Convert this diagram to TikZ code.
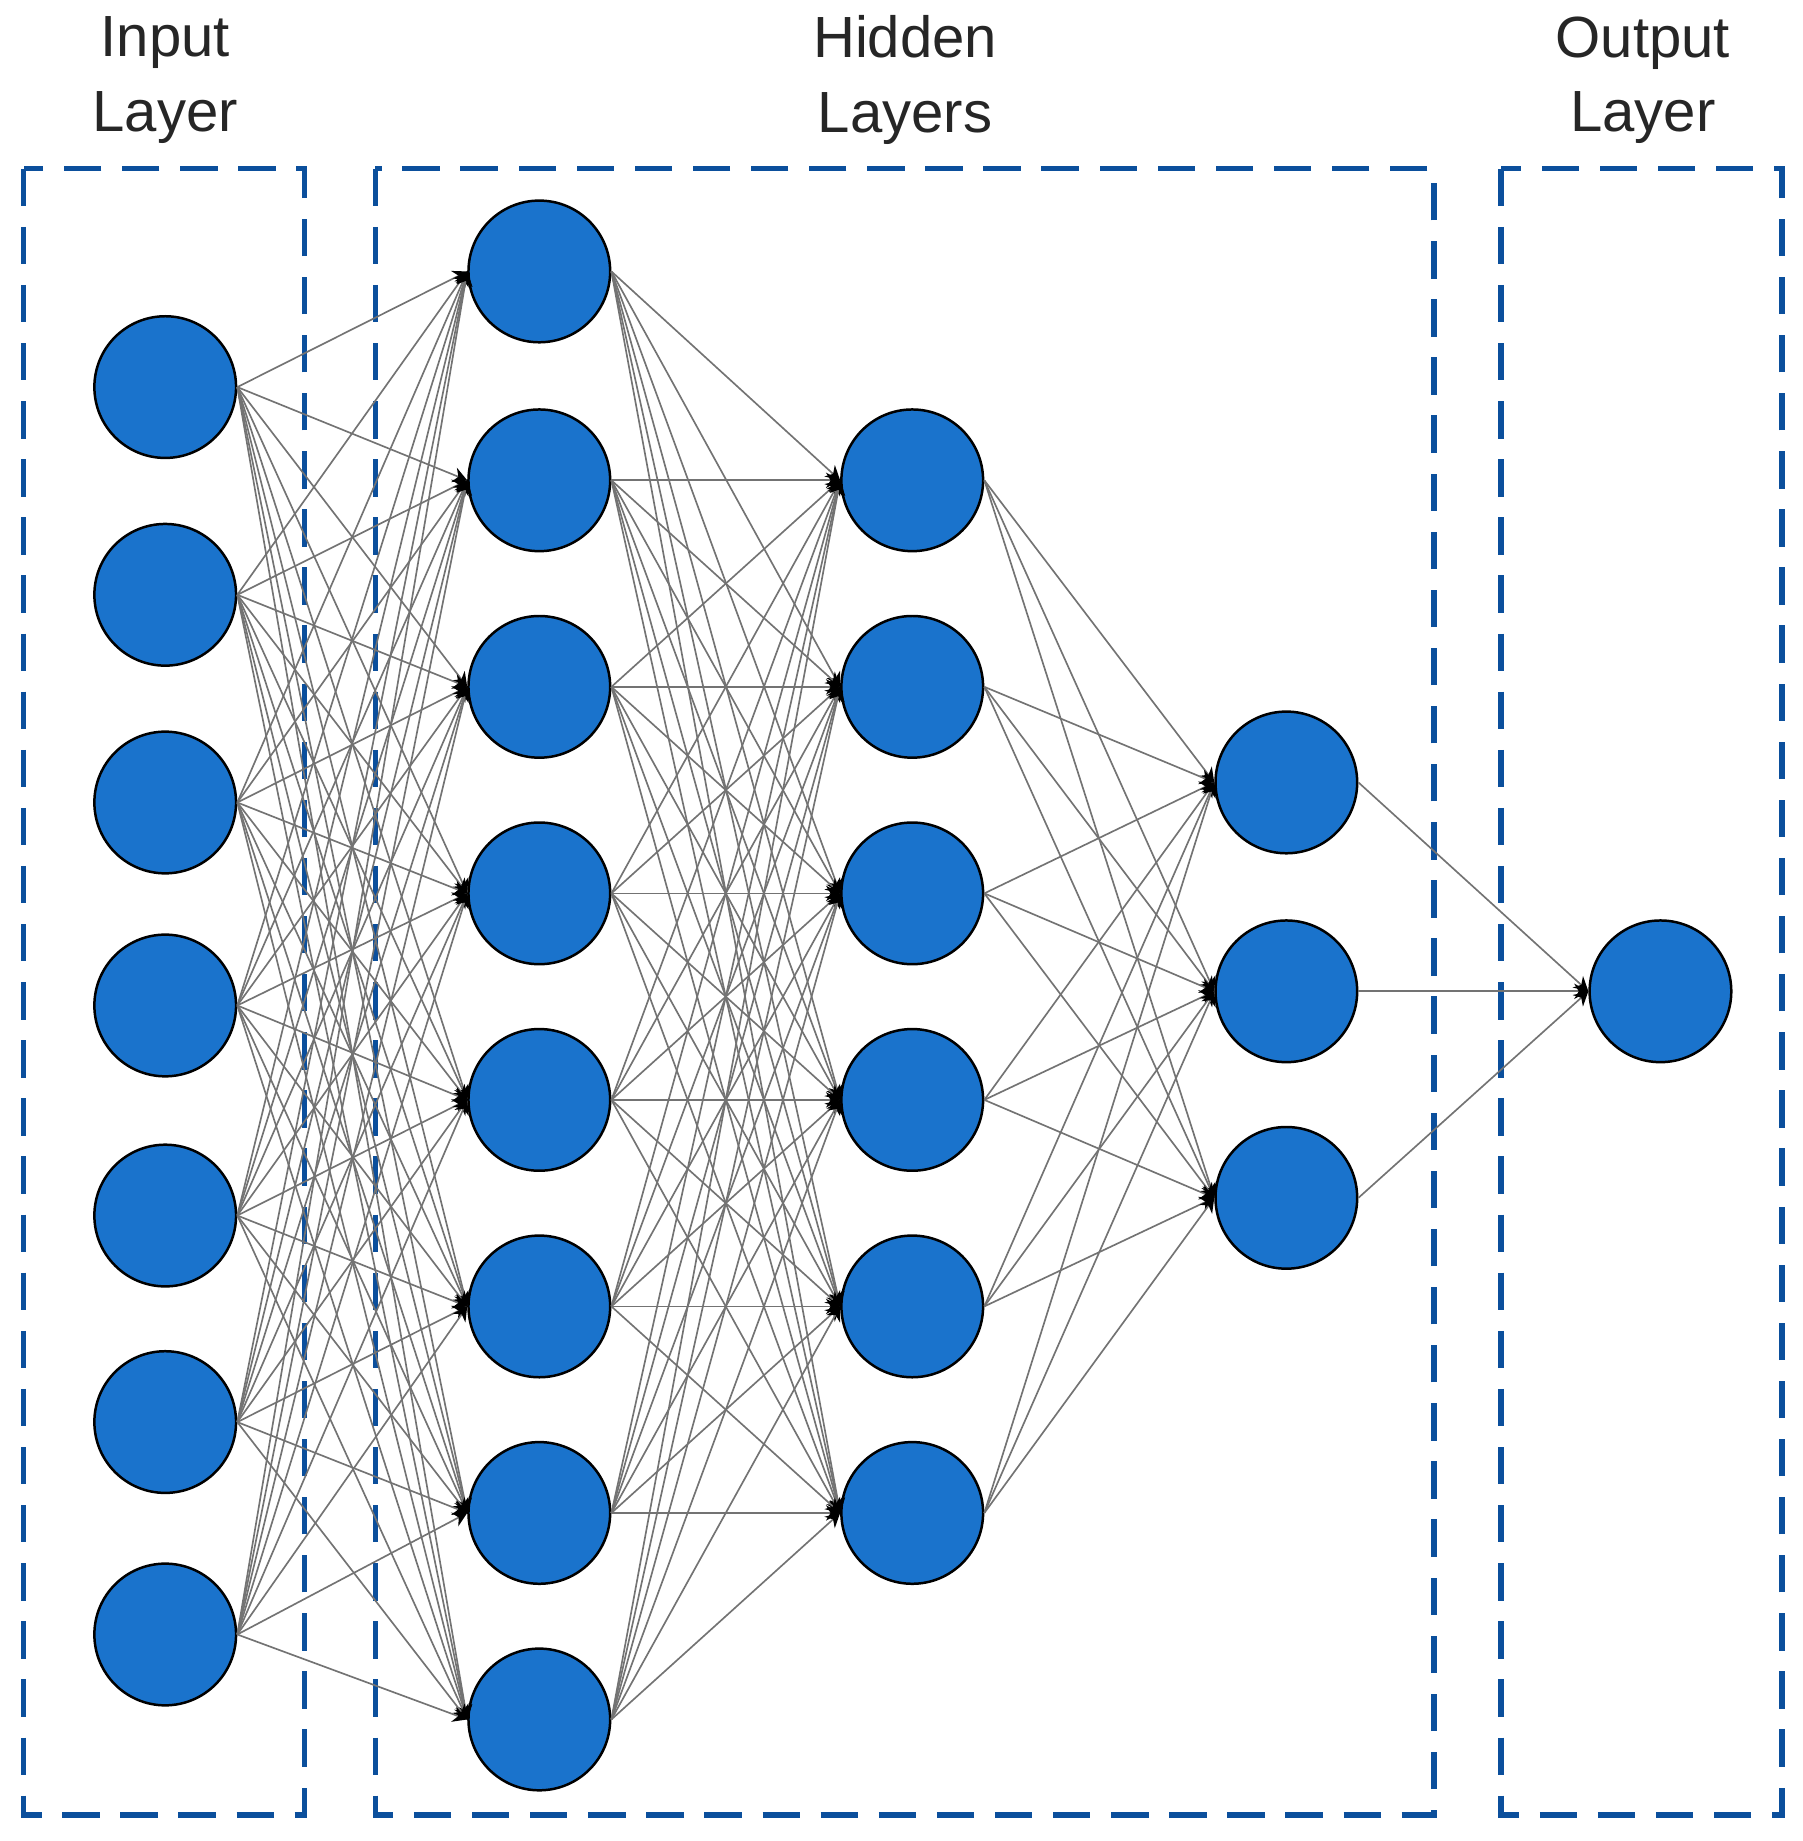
\documentclass[tikz,border=0pt]{standalone}
\usepackage{fontspec}
\setmainfont{Liberation Sans}
\usetikzlibrary{arrows.meta}
\definecolor{nfill}{HTML}{1A73CC}
\definecolor{boxc}{HTML}{0B4F9C}
\begin{document}
\begin{tikzpicture}[x=0.01cm,y=-0.01cm,
  neuron/.style={circle,draw=black,line width=0.6pt,fill=nfill,minimum size=1.2cm,inner sep=0pt},
  conn/.style={draw=black!55,line width=0.4pt,-{Stealth[length=1.2mm,width=1.3mm,black]}},
  lbox/.style={draw=boxc,line width=1.3pt,dash pattern=on 9pt off 5pt},
  lab/.style={font=\fontsize{14}{18}\selectfont,align=center,text=black!85}]
\useasboundingbox (0,0) rectangle (1527,1560);
\draw[lbox] (20,143) rectangle (258,1538);
\draw[lbox] (318,143) rectangle (1215,1538);
\draw[lbox] (1272,143) rectangle (1510,1538);
\node[lab] (lin) at (140,68) {Input\\Layer};
\node[lab] (lhid) at (767,68) {Hidden\\Layers};
\node[lab] (lout) at (1392,68) {Output\\Layer};
\foreach \y [count=\i] in {328,504,680,852,1030,1205,1385} \node[neuron] (a\i) at (140,\y) {};
\foreach \y [count=\i] in {230,407,582,757,932,1107,1282,1457} \node[neuron] (b\i) at (457,\y) {};
\foreach \y [count=\i] in {407,582,757,932,1107,1282} \node[neuron] (c\i) at (773,\y) {};
\foreach \y [count=\i] in {663,840,1015} \node[neuron] (d\i) at (1090,\y) {};
\node[neuron] (o1) at (1407,840) {};
\foreach \i in {1,...,7} \foreach \j in {1,...,8} \draw[conn] (a\i.east) -- (b\j.west);
\foreach \i in {1,...,8} \foreach \j in {1,...,6} \draw[conn] (b\i.east) -- (c\j.west);
\foreach \i in {1,...,6} \foreach \j in {1,...,3} \draw[conn] (c\i.east) -- (d\j.west);
\foreach \i in {1,...,3} \draw[conn] (d\i.east) -- (o1.west);
\end{tikzpicture}
\end{document}
